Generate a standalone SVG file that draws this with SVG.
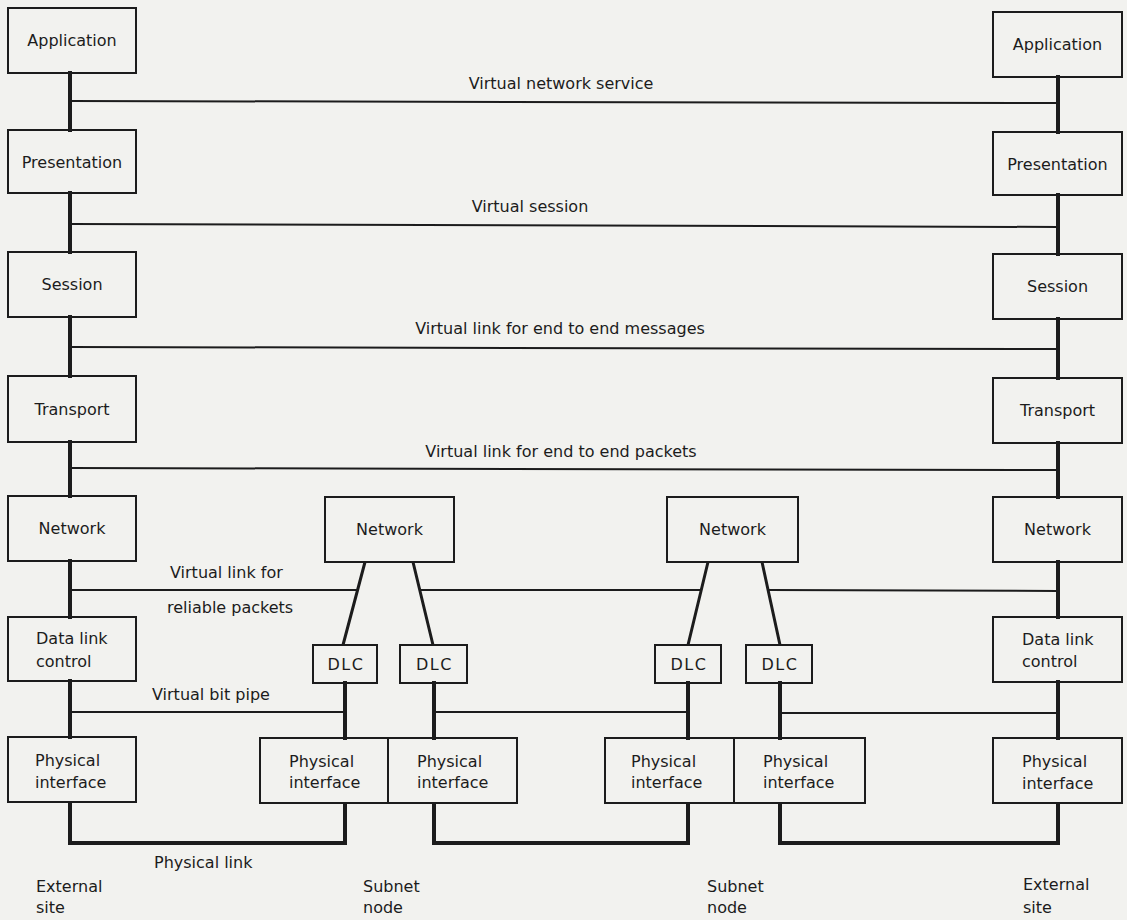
<svg xmlns="http://www.w3.org/2000/svg" width="1127" height="920" viewBox="0 0 1127 920">
<style>
.bg{fill:#f2f2ef}
.box{fill:none;stroke:#1c1c1c;stroke-width:2}
.stem{stroke:#1c1c1c;stroke-width:4;fill:none;stroke-linecap:square}
.lnk{stroke:#1c1c1c;stroke-width:2;fill:none}
.sl{stroke:#1c1c1c;stroke-width:3;fill:none}
.phy{stroke:#1c1c1c;stroke-width:4;fill:none;stroke-linejoin:miter}
text{font-family:"DejaVu Sans","Liberation Sans",sans-serif;font-size:16px;fill:#1c1c1c}
.c{text-anchor:middle}
.dlc{letter-spacing:1.5px}
</style>
<rect class="bg" x="0" y="0" width="1127" height="920"/>

<g id="connectors">
  <!-- left column stems -->
  <path class="stem" d="M70,73V130M70,193V252M70,317V376M70,442V496M70,561V617M70,681V737"/>
  <!-- right column stems -->
  <path class="stem" d="M1058,77V132M1058,195V254M1058,319V378M1058,443V497M1058,562V617M1058,682V738"/>
  <!-- subnet DLC stems -->
  <path class="stem" d="M345,683V738M434,683V738M688,683V738M780,683V738"/>
  <!-- network to DLC slants -->
  <path class="sl" d="M365,562L343,645M413,562L433,645M708,562L688,645M762,562L780,645"/>
  <!-- virtual horizontal links -->
  <path class="lnk" d="M70,101L1058,103"/>
  <path class="lnk" d="M70,224L1058,227"/>
  <path class="lnk" d="M70,347L1058,349"/>
  <path class="lnk" d="M70,468L1058,470"/>
  <path class="lnk" d="M70,590H358M420,590H701M768,590L1058,591"/>
  <path class="lnk" d="M70,712H345M434,712H688M780,713H1058"/>
  <!-- physical links -->
  <path class="phy" d="M70,802V843H345V803"/>
  <path class="phy" d="M434,803V843H688V803"/>
  <path class="phy" d="M780,803V843H1058V803"/>
</g>

<g id="L-application"><rect class="box" x="8" y="8" width="128" height="65"/><text class="c" x="72" y="46">Application</text></g>
<g id="L-presentation"><rect class="box" x="8" y="130" width="128" height="63"/><text class="c" x="72" y="168">Presentation</text></g>
<g id="L-session"><rect class="box" x="8" y="252" width="128" height="65"/><text class="c" x="72" y="290">Session</text></g>
<g id="L-transport"><rect class="box" x="8" y="376" width="128" height="66"/><text class="c" x="72" y="415">Transport</text></g>
<g id="L-network"><rect class="box" x="8" y="496" width="128" height="65"/><text class="c" x="72" y="534">Network</text></g>
<g id="L-dlc"><rect class="box" x="8" y="617" width="128" height="64"/><text x="36" y="644">Data link</text><text x="36" y="667">control</text></g>
<g id="L-physical"><rect class="box" x="8" y="737" width="128" height="65"/><text x="35" y="766">Physical</text><text x="35" y="788">interface</text></g>

<g id="S1-network"><rect class="box" x="325" y="497" width="129" height="65"/><text class="c" x="389.5" y="535">Network</text></g>
<g id="S1-dlc1"><rect class="box" x="313" y="645" width="64" height="38"/><text class="c dlc" x="346" y="670">DLC</text></g>
<g id="S1-dlc2"><rect class="box" x="400" y="645" width="67" height="38"/><text class="c dlc" x="434.5" y="670">DLC</text></g>
<g id="S1-physical1"><rect class="box" x="260" y="738" width="128" height="65"/><text x="289" y="767">Physical</text><text x="289" y="788">interface</text></g>
<g id="S1-physical2"><rect class="box" x="388" y="738" width="129" height="65"/><text x="417" y="767">Physical</text><text x="417" y="788">interface</text></g>

<g id="S2-network"><rect class="box" x="667" y="497" width="131" height="65"/><text class="c" x="732.5" y="535">Network</text></g>
<g id="S2-dlc1"><rect class="box" x="655" y="645" width="66" height="38"/><text class="c dlc" x="689" y="670">DLC</text></g>
<g id="S2-dlc2"><rect class="box" x="746" y="645" width="66" height="38"/><text class="c dlc" x="780" y="670">DLC</text></g>
<g id="S2-physical1"><rect class="box" x="605" y="738" width="129" height="65"/><text x="631" y="767">Physical</text><text x="631" y="788">interface</text></g>
<g id="S2-physical2"><rect class="box" x="734" y="738" width="131" height="65"/><text x="763" y="767">Physical</text><text x="763" y="788">interface</text></g>

<g id="R-application"><rect class="box" x="993" y="12" width="129" height="65"/><text class="c" x="1057.5" y="50">Application</text></g>
<g id="R-presentation"><rect class="box" x="993" y="132" width="129" height="63"/><text class="c" x="1057.5" y="170">Presentation</text></g>
<g id="R-session"><rect class="box" x="993" y="254" width="129" height="65"/><text class="c" x="1057.5" y="292">Session</text></g>
<g id="R-transport"><rect class="box" x="993" y="378" width="129" height="65"/><text class="c" x="1057.5" y="416">Transport</text></g>
<g id="R-network"><rect class="box" x="993" y="497" width="129" height="65"/><text class="c" x="1057.5" y="535">Network</text></g>
<g id="R-dlc"><rect class="box" x="993" y="617" width="129" height="65"/><text x="1022" y="645">Data link</text><text x="1022" y="667">control</text></g>
<g id="R-physical"><rect class="box" x="993" y="738" width="129" height="65"/><text x="1022" y="767">Physical</text><text x="1022" y="789">interface</text></g>

<g id="labels">
  <text class="c" x="561" y="89">Virtual network service</text>
  <text class="c" x="530" y="212">Virtual session</text>
  <text class="c" x="560" y="334">Virtual link for end to end messages</text>
  <text class="c" x="561" y="457">Virtual link for end to end packets</text>
  <text x="170" y="578">Virtual link for</text>
  <text x="167" y="613">reliable packets</text>
  <text x="152" y="700">Virtual bit pipe</text>
  <text x="154" y="868">Physical link</text>
  <text x="36" y="892">External</text><text x="36" y="913">site</text>
  <text x="363" y="892">Subnet</text><text x="363" y="913">node</text>
  <text x="707" y="892">Subnet</text><text x="707" y="913">node</text>
  <text x="1023" y="890">External</text><text x="1023" y="913">site</text>
</g>
</svg>
